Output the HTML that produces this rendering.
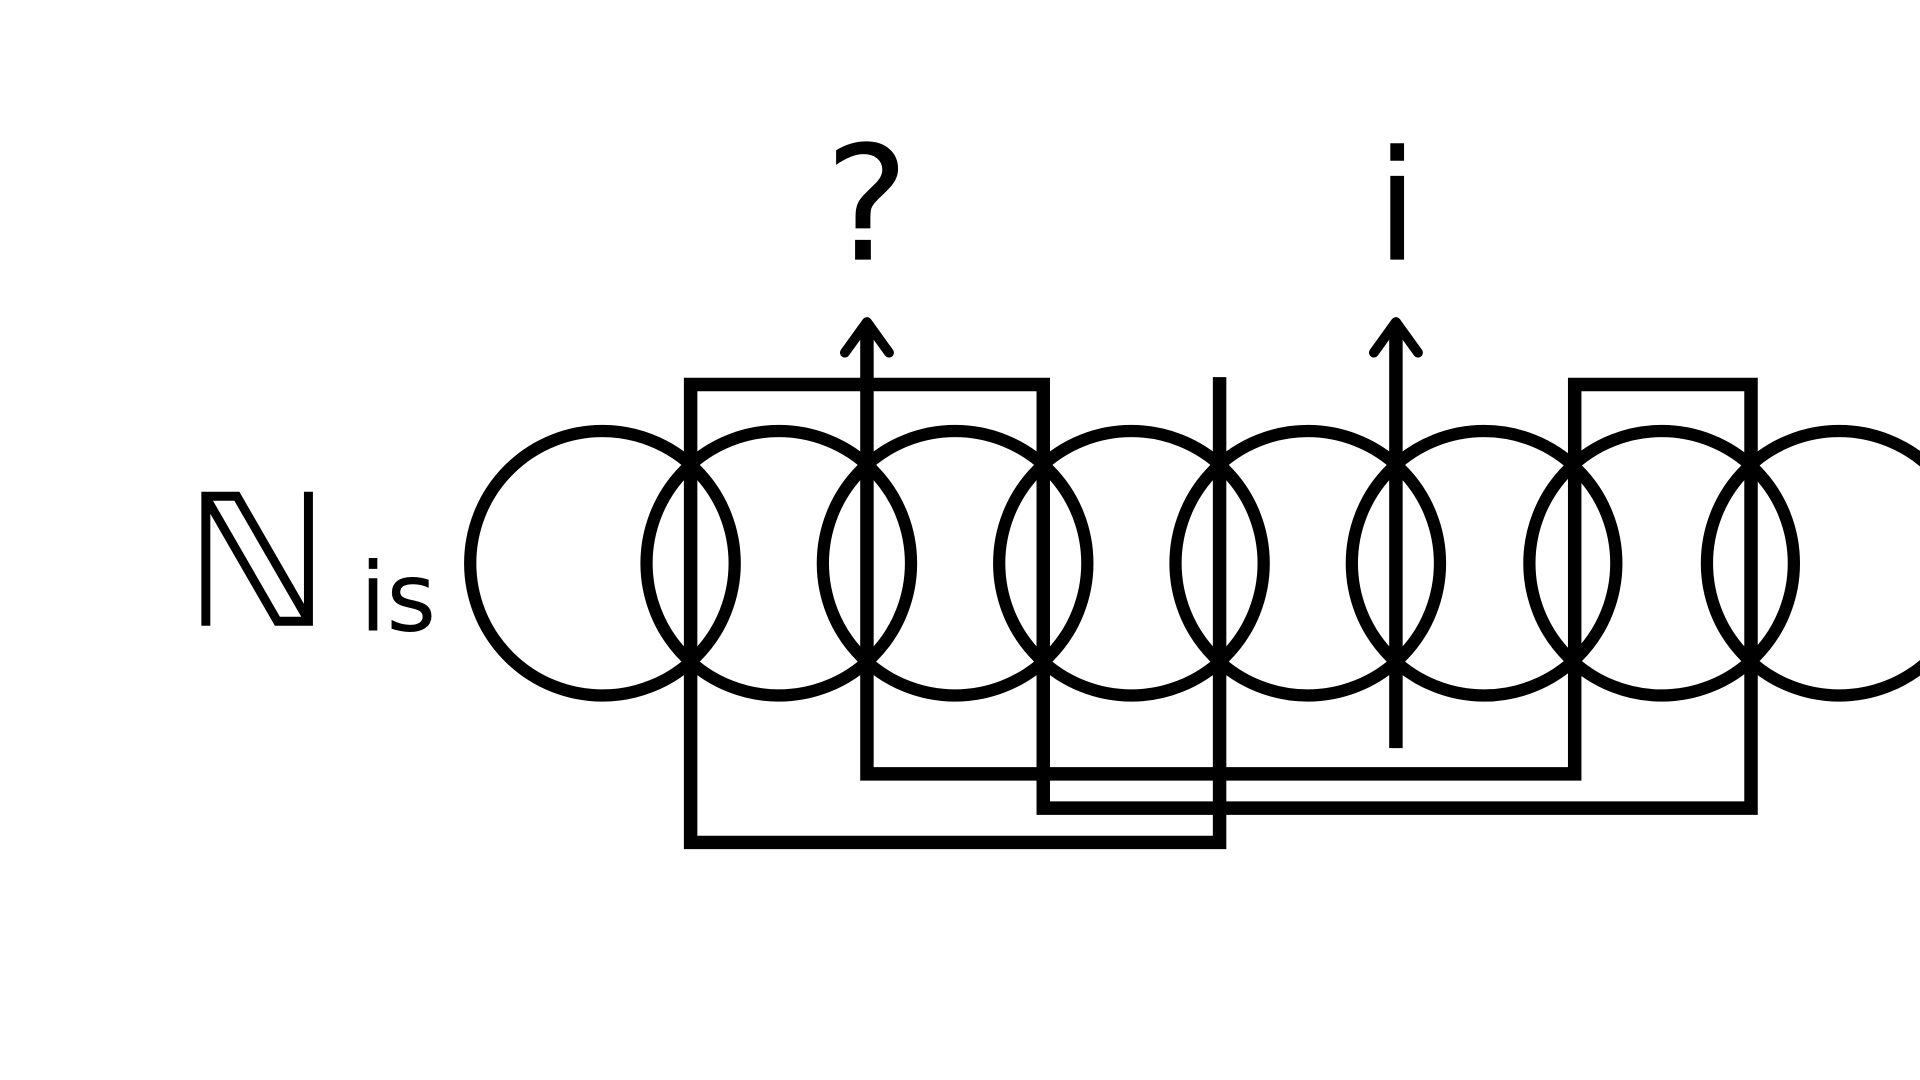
<!DOCTYPE html>
<html><head><meta charset="utf-8"><style>html,body{margin:0;padding:0;background:#fff;overflow:hidden}svg{display:block}</style></head>
<body>
<svg width="1920" height="1080" viewBox="0 0 1568 882" xmlns="http://www.w3.org/2000/svg">
<rect width="1568" height="882" fill="#fff"/>
<g fill="none" stroke="#000" stroke-width="10">
<circle cx="492" cy="460" r="108"/>
<circle cx="636" cy="460" r="108"/>
<circle cx="780" cy="460" r="108"/>
<circle cx="924" cy="460" r="108"/>
<circle cx="1068" cy="460" r="108"/>
<circle cx="1212" cy="460" r="108"/>
<circle cx="1357" cy="460" r="108"/>
<circle cx="1502" cy="460" r="108"/>
</g>
<g fill="none" stroke="#000" stroke-width="11" stroke-linejoin="miter">
<path d="M996,308 V688 H564 V314 H852 V660 H1430 V314 H1286 V632 H708 V266"/>
<path d="M1140,266 V611"/>
</g>
<g fill="none" stroke="#000" stroke-width="8" stroke-linecap="round" stroke-linejoin="round">
<path d="M690,288 L708,263 L726,288"/>
<path d="M1122,288 L1140,263 L1158,288"/>
</g>
<g font-family="'DejaVu Sans','Liberation Sans',sans-serif" fill="#000">
<text x="708" y="212" font-size="130" text-anchor="middle">?</text>
<text x="1141" y="212" font-size="125" text-anchor="middle">i</text>
<text x="210" y="511" font-size="150" text-anchor="middle">ℕ</text>
<text x="325" y="515" font-size="78" text-anchor="middle">is</text>
</g>
</svg>
</body></html>
